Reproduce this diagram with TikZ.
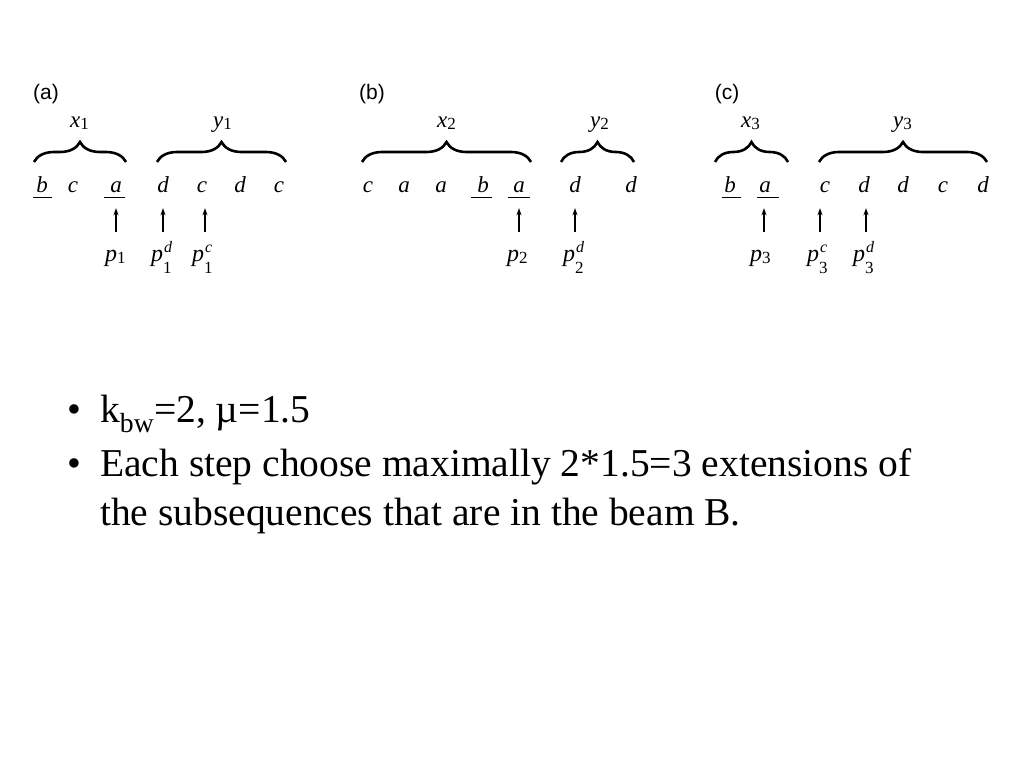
\documentclass[tikz,border=0pt]{standalone}
\usepackage{fontspec}
\setmainfont{Liberation Serif}
\newfontfamily\labfont{Liberation Sans}
\usetikzlibrary{decorations.pathreplacing,arrows.meta}
\newcommand{\sbx}[1]{\raisebox{-2pt}{\fontsize{17}{17}\selectfont #1}}
\newcommand{\spb}[2]{\makebox[0pt][l]{\kern1pt\raisebox{9pt}{\fontsize{16}{16}\selectfont\itshape #1}}\raisebox{-12pt}{\fontsize{17}{17}\selectfont #2}}
\begin{document}
\begin{tikzpicture}[x=1pt,y=-1pt,
  lett/.style={anchor=base,inner sep=0pt,text height=16pt,text depth=0pt,font=\fontsize{23}{24}\selectfont\itshape},
  vlab/.style={anchor=base west,inner sep=0pt,font=\fontsize{23}{24}\selectfont},
  plab/.style={anchor=base west,inner sep=0pt,font=\fontsize{24}{24}\selectfont},
  panel/.style={anchor=base,inner sep=0pt,font=\labfont\fontsize{21}{24}\selectfont},
  brc/.style={decorate,decoration={brace,amplitude=20pt},line width=2.6pt},
  uline/.style={line width=1.1pt},
  arr/.style={line width=1.1pt,-{Stealth[length=7pt,width=5pt]}},
  body/.style={anchor=base west,inner sep=0pt,font=\fontsize{39.5}{46}\selectfont},
  bul/.style={anchor=base,inner sep=0pt,font=\fontsize{39.5}{46}\selectfont}]
\useasboundingbox[fill=white] (0,0) rectangle (1024,768);
% ---------- (a)
\node[panel] (pa) at (46,99) {(a)};
\node[vlab] (x1) at (70,127) {\textit{x}\sbx{1}};
\node[vlab] (y1) at (213,127) {\textit{y}\sbx{1}};
\draw[brc] (34,162) -- (126,162);
\draw[brc] (157,162) -- (286,162);
\node[lett] (a1) at (42,192) {b};
\node[lett] (a2) at (73,192) {c};
\node[lett] (a3) at (116,192) {a};
\node[lett] (a4) at (163,192) {d};
\node[lett] (a5) at (202,192) {c};
\node[lett] (a6) at (240,192) {d};
\node[lett] (a7) at (279,192) {c};
\draw[uline] ([xshift=-9pt,yshift=-5pt]a1.south) -- ([xshift=10pt,yshift=-5pt]a1.south);
\draw[uline] ([xshift=-12pt,yshift=-5pt]a3.south) -- ([xshift=9pt,yshift=-5pt]a3.south);
\node[plab] (pa1) at (105,261) {\textit{p}\sbx{1}};
\node[plab] (pa2) at (151,261) {\textit{p}\spb{d}{1}};
\node[plab] (pa3) at (192,261) {\textit{p}\spb{c}{1}};
\draw[arr] ([yshift=-40pt]a3.south) -- ([yshift=-16pt]a3.south);
\draw[arr] ([yshift=-40pt]a4.south) -- ([yshift=-16pt]a4.south);
\draw[arr] ([xshift=3pt,yshift=-40pt]a5.south) -- ([xshift=3pt,yshift=-16pt]a5.south);
% ---------- (b)
\node[panel] (pb) at (372,99) {(b)};
\node[vlab] (x2) at (437,127) {\textit{x}\sbx{2}};
\node[vlab] (y2) at (590,127) {\textit{y}\sbx{2}};
\draw[brc] (362,162) -- (531,162);
\draw[brc] (561,162) -- (634,162);
\node[lett] (b1) at (368,192) {c};
\node[lett] (b2) at (404,192) {a};
\node[lett] (b3) at (441,192) {a};
\node[lett] (b4) at (483,192) {b};
\node[lett] (b5) at (519,192) {a};
\node[lett] (b6) at (575,192) {d};
\node[lett] (b7) at (631,192) {d};
\draw[uline] ([xshift=-12pt,yshift=-5pt]b4.south) -- ([xshift=9pt,yshift=-5pt]b4.south);
\draw[uline] ([xshift=-11pt,yshift=-5pt]b5.south) -- ([xshift=11pt,yshift=-5pt]b5.south);
\node[plab] (pb1) at (507,261) {\textit{p}\sbx{2}};
\node[plab] (pb2) at (563,261) {\textit{p}\spb{d}{2}};
\draw[arr] ([yshift=-40pt]b5.south) -- ([yshift=-16pt]b5.south);
\draw[arr] ([yshift=-40pt]b6.south) -- ([yshift=-16pt]b6.south);
% ---------- (c)
\node[panel] (pc) at (727,99) {(c)};
\node[vlab] (x3) at (741,127) {\textit{x}\sbx{3}};
\node[vlab] (y3) at (893,127) {\textit{y}\sbx{3}};
\draw[brc] (715,162) -- (788,162);
\draw[brc] (819,162) -- (987,162);
\node[lett] (c1) at (730,192) {b};
\node[lett] (c2) at (765,192) {a};
\node[lett] (c3) at (825,192) {c};
\node[lett] (c4) at (864,192) {d};
\node[lett] (c5) at (903,192) {d};
\node[lett] (c6) at (943,192) {c};
\node[lett] (c7) at (983,192) {d};
\draw[uline] ([xshift=-8pt,yshift=-5pt]c1.south) -- ([xshift=11pt,yshift=-5pt]c1.south);
\draw[uline] ([xshift=-8pt,yshift=-5pt]c2.south) -- ([xshift=14pt,yshift=-5pt]c2.south);
\node[plab] (pc1) at (750,261) {\textit{p}\sbx{3}};
\node[plab] (pc2) at (807,261) {\textit{p}\spb{c}{3}};
\node[plab] (pc3) at (853,261) {\textit{p}\spb{d}{3}};
\draw[arr] ([xshift=-1pt,yshift=-40pt]c2.south) -- ([xshift=-1pt,yshift=-16pt]c2.south);
\draw[arr] ([xshift=-5pt,yshift=-40pt]c3.south) -- ([xshift=-5pt,yshift=-16pt]c3.south);
\draw[arr] ([xshift=2pt,yshift=-40pt]c4.south) -- ([xshift=2pt,yshift=-16pt]c4.south);
% ---------- text
\node[bul] (u1) at (74,422) {\textbullet};
\node[body] (t1) at (100,422) {k\textsubscript{bw}=2, \textmu=1.5};
\node[bul] (u2) at (74,476) {\textbullet};
\node[body] (t2) at (100,476) {Each step choose maximally 2*1.5=3 extensions of};
\node[body] (t3) at (100,525) {the subsequences that are in the beam B.};
\end{tikzpicture}
\end{document}
